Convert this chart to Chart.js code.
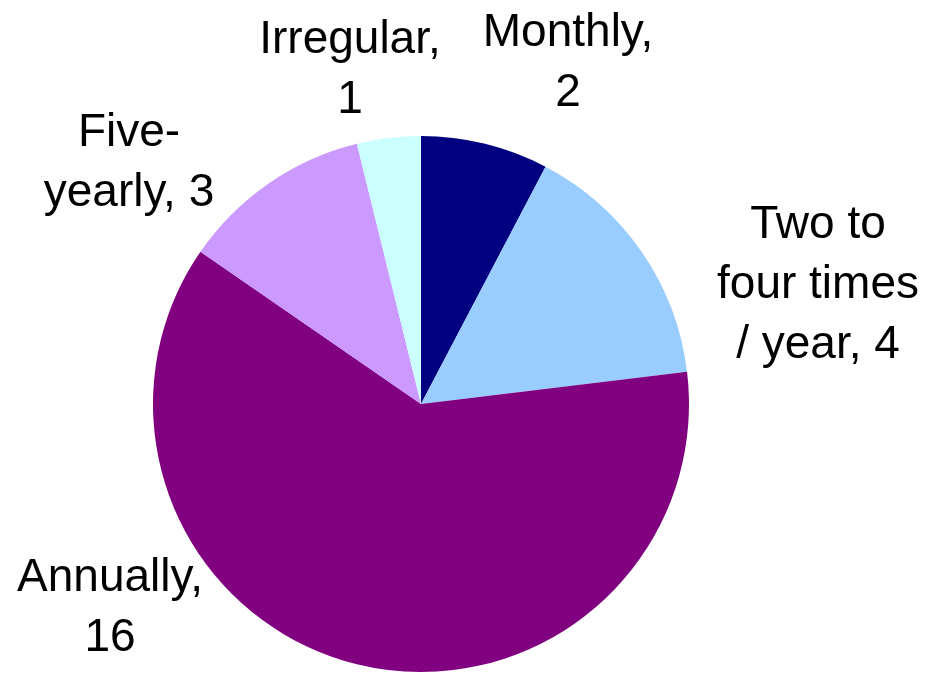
<!DOCTYPE html>
<html>
<head>
<meta charset="utf-8">
<script src="https://cdn.jsdelivr.net/npm/chart.js@4/dist/chart.umd.min.js"></script>
<style>
  html, body { margin: 0; padding: 0; background: #fff; }
  #wrap { width: 925px; height: 673px; }
</style>
</head>
<body>
<div id="wrap"><canvas id="grafico_pie"></canvas></div>
<script>
// datos del grafico
var categorias = ["Monthly", "Two to four times / year", "Annually", "Five-yearly", "Irregular"];
var valores = [2, 4, 16, 3, 1];
var colores = ["#000080", "#99CCFF", "#800080", "#CC99FF", "#CCFFFF"];
// texto de cada etiqueta, partido en lineas
var etiquetas = [
    ["Monthly,", "2"],
    ["Two to", "four times", "/ year, 4"],
    ["Annually,", "16"],
    ["Five-", "yearly, 3"],
    ["Irregular,", "1"]
];
// desplazamiento de cada etiqueta respecto al centro del pie (solo layout)
var desplazamientos = [[147, -341], [397, -119], [-311, 204], [-292, -241], [-71, -334]];

var plugin_etiquetas = {
    id: "etiquetas_pie",
    afterDatasetsDraw: function (chart) {
        var ctx = chart.ctx;
        var meta = chart.getDatasetMeta(0);
        var alto_linea = 60;
        ctx.save();
        ctx.font = "46px 'Liberation Sans', Arial, sans-serif";
        ctx.fillStyle = "#000";
        ctx.textAlign = "center";
        ctx.textBaseline = "middle";
        meta.data.forEach(function (arco, i) {
            var cx = arco.x + desplazamientos[i][0];
            var cy = arco.y + desplazamientos[i][1];
            var lineas = etiquetas[i];
            var y0 = cy - (lineas.length - 1) * alto_linea / 2;
            for (var k = 0; k < lineas.length; k++) {
                ctx.fillText(lineas[k], cx, y0 + k * alto_linea);
            }
        });
        ctx.restore();
    }
};

var grafico = new Chart(document.getElementById("grafico_pie"), {
    type: "pie",
    data: {
        labels: categorias,
        datasets: [{
            data: valores,
            backgroundColor: colores,
            borderWidth: 0
        }]
    },
    options: {
        responsive: true,
        maintainAspectRatio: false,
        animation: false,
        layout: { padding: { top: 136, bottom: 1, left: 153, right: 236 } },
        plugins: {
            legend: { display: false },
            tooltip: { enabled: false }
        }
    },
    plugins: [plugin_etiquetas]
});
</script>
</body>
</html>
